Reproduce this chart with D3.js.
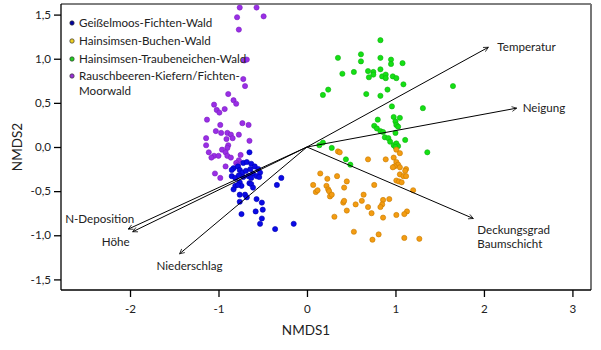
<!DOCTYPE html>
<html><head><meta charset="utf-8">
<script src="https://cdn.jsdelivr.net/npm/d3@7"></script>
<style>body{margin:0;background:#fff}svg{display:block;font-family:Lato,"Open Sans",sans-serif}</style>
</head><body><svg id="c" width="601" height="350"></svg>
<script>
const groups = ["Geißelmoos-Fichten-Wald","Hainsimsen-Buchen-Wald","Hainsimsen-Traubeneichen-Wald","Rauschbeeren-Kiefern/Fichten-Moorwald"];
const blueX = [-0.65,-0.83,-0.85,-0.78,-0.72,-0.68,-0.63,-0.59,-0.55,-0.76,-0.73,-0.69,-0.64,-0.61,-0.85,-0.81,-0.77,-0.72,-0.66,-0.63,-0.53,-0.57,-0.54,-0.76,-0.74,-0.81,-0.83,-0.65,-0.63,-0.61,-0.29,-0.34,-0.76,-0.70,-0.68,-0.76,-0.57,-0.51,-0.58,-0.50,-0.74,-0.51,-0.53,-0.36,-0.15,-0.78];
const blueY = [-0.06,-0.24,-0.26,-0.22,-0.18,-0.17,-0.19,-0.22,-0.25,-0.26,-0.29,-0.27,-0.25,-0.30,-0.33,-0.35,-0.32,-0.34,-0.33,-0.35,-0.29,-0.33,-0.34,-0.40,-0.44,-0.44,-0.48,-0.41,-0.42,-0.46,-0.35,-0.43,-0.54,-0.54,-0.57,-0.62,-0.59,-0.63,-0.73,-0.71,-0.76,-0.81,-0.87,-0.93,-0.87,-0.43];
const orangeX = [0.35,0.37,0.69,0.89,1.01,1.05,0.98,1.01,1.03,0.99,1.12,0.97,1.05,1.11,1.05,1.09,1.12,0.15,0.34,0.23,0.45,1.01,1.04,1.07,0.07,0.10,0.12,0.22,0.24,0.25,0.42,0.76,1.20,0.26,0.28,0.64,0.62,0.55,0.41,0.42,0.86,0.93,0.85,0.83,0.69,0.45,0.73,0.31,0.86,1.01,1.13,1.10,0.53,0.81,0.74,1.10,1.27];
const orangeY = [-0.05,-0.06,-0.14,-0.14,-0.03,-0.07,-0.12,-0.17,-0.20,-0.22,-0.25,-0.23,-0.23,-0.27,-0.31,-0.33,-0.33,-0.30,-0.33,-0.36,-0.39,-0.38,-0.39,-0.40,-0.43,-0.51,-0.49,-0.44,-0.48,-0.50,-0.46,-0.43,-0.49,-0.56,-0.54,-0.54,-0.61,-0.65,-0.63,-0.61,-0.60,-0.59,-0.65,-0.68,-0.68,-0.72,-0.75,-0.79,-0.80,-0.77,-0.73,-0.76,-0.96,-0.99,-1.05,-1.03,-1.04];
const greenX = [0.83,0.35,0.61,0.61,0.83,0.95,0.95,1.08,0.40,0.53,0.69,0.75,0.75,0.70,0.83,0.85,0.89,0.89,0.97,1.01,1.09,0.91,0.24,0.18,0.67,0.83,1.65,0.96,1.31,0.80,0.98,1.05,1.00,1.01,1.03,0.76,0.79,0.83,0.86,1.00,0.88,0.92,0.94,1.11,0.98,1.01,1.03,1.00,0.18,0.14,0.28,1.36,0.44,0.49];
const greenY = [1.21,1.01,1.05,0.97,1.01,0.99,0.94,0.95,0.83,0.85,0.86,0.85,0.82,0.79,0.88,0.80,0.82,0.78,0.80,0.78,0.71,0.65,0.65,0.59,0.60,0.58,0.69,0.46,0.44,0.31,0.34,0.33,0.29,0.25,0.23,0.24,0.21,0.18,0.17,0.16,0.11,0.10,0.06,0.08,0.02,0.04,0.01,0.00,0.05,0.02,-0.01,-0.06,-0.14,-0.20];
const purpleX = [-0.76,-0.57,-0.79,-0.49,-0.77,-0.71,-0.68,-0.72,-0.70,-0.89,-0.83,-0.80,-1.05,-1.02,-0.99,-0.93,-1.13,-0.98,-0.73,-0.66,-1.03,-0.97,-0.90,-0.86,-0.84,-0.77,-1.14,-0.91,-0.65,-1.14,-0.89,-0.90,-1.11,-0.96,-0.92,-1.05,-1.00,-1.08,-0.90,-0.86,-0.77,-0.80,-0.78,-0.92,-1.04,-0.98,-0.75];
const purpleY = [1.58,1.58,1.47,1.48,1.33,0.98,0.99,0.77,0.69,0.60,0.53,0.49,0.48,0.42,0.39,0.43,0.31,0.25,0.27,0.25,0.18,0.16,0.16,0.14,0.10,0.14,0.10,0.09,0.07,0.02,0.02,-0.01,-0.06,-0.03,-0.06,-0.10,-0.10,-0.12,-0.10,-0.12,-0.15,-0.18,-0.20,-0.22,-0.30,-0.35,-0.09];
const vectorNames = ["Temperatur","Neigung","Deckungsgrad Baumschicht","N-Deposition","Höhe","Niederschlag"];
const vectorX = [2.05,2.37,1.88,-2.02,-1.97,-1.44];
const vectorY = [1.13,0.44,-0.81,-0.93,-0.96,-1.21];
const xTicks = [-2,-1,0,1,2,3];
const yTicks = [-1.5,-1.0,-0.5,0.0,0.5,1.0,1.5];

const svg = d3.select("#c");
const L=61,T=4,R=591,B=290, FS=11.6;
const x = d3.scaleLinear().domain([-2.78,3.21]).range([L,R]);
const y = d3.scaleLinear().domain([-1.62,1.62]).range([B,T]);
const loc = d3.formatLocale({decimal:",",thousands:".",grouping:[3],currency:["","€"],minus:"-"});
const fy = loc.format(".1f"), fx = loc.format("d");

// frame
svg.append("line").attr("x1",L).attr("x2",R).attr("y1",T).attr("y2",T).attr("stroke","#000");
svg.append("line").attr("x1",R).attr("x2",R).attr("y1",T).attr("y2",B).attr("stroke","#777").attr("stroke-width",2);

const gx = svg.append("g").attr("transform",`translate(0,${B})`).call(d3.axisBottom(x).tickValues(xTicks).tickFormat(fx).tickSize(7).tickPadding(8));
const gy = svg.append("g").attr("transform",`translate(${L},0)`).call(d3.axisLeft(y).tickValues(yTicks).tickFormat(fy).tickSize(7).tickPadding(3));
[gx,gy].forEach(g=>{g.select(".domain").attr("stroke","#000").attr("stroke-width",1.3);g.selectAll(".tick line").attr("stroke","#000").attr("stroke-width",1.3);g.selectAll("text").attr("font-family","Lato,sans-serif").attr("font-size",FS).attr("fill","#222");});
gy.select(".domain").attr("d",`M-0,${B}V${T}`);
gx.select(".domain").attr("d",`M${L},0H${R}`);

svg.append("text").attr("x",306).attr("y",335).attr("text-anchor","middle").attr("font-size",13.5).attr("fill","#222").text("NMDS1");
svg.append("text").attr("transform","translate(22,147) rotate(-90)").attr("text-anchor","middle").attr("font-size",13.5).attr("fill","#222").text("NMDS2");

// points
const series = [
 {xs:purpleX,ys:purpleY,fill:"#9a2ee6",stroke:"#7a1ec0"},
 {xs:greenX,ys:greenY,fill:"#14e014",stroke:"#10b010"},
 {xs:orangeX,ys:orangeY,fill:"#f39c12",stroke:"#c87a00"},
 {xs:blueX,ys:blueY,fill:"#0a0ae6",stroke:"#0000b0"}
];
series.forEach(s=>{
  svg.append("g").selectAll("circle").data(s.xs.map((v,i)=>[v,s.ys[i]])).join("circle")
   .attr("cx",d=>x(d[0])).attr("cy",d=>y(d[1])).attr("r",2.6)
   .attr("fill",s.fill).attr("stroke",s.stroke).attr("stroke-width",0.6);
});

// arrows
svg.append("defs").append("marker").attr("id","ah").attr("viewBox","0 0 10 10").attr("refX",9).attr("refY",5)
 .attr("markerWidth",6).attr("markerHeight",6).attr("markerUnits","userSpaceOnUse").attr("orient","auto")
 .append("path").attr("d","M1,1L9,5L1,9").attr("fill","none").attr("stroke","#000").attr("stroke-width",1.2);
const labelOff = [[9,0,"start"],[6,0,"start"],[4,11,"start"],[6,-10,"end"],[-3,10,"end"],[10,12,"middle"]];
vectorNames.forEach((n,i)=>{
  svg.append("line").attr("x1",x(0)).attr("y1",y(0)).attr("x2",x(vectorX[i])).attr("y2",y(vectorY[i]))
   .attr("stroke","#000").attr("stroke-width",1).attr("marker-end","url(#ah)");
  const o = labelOff[i];
  const t = svg.append("text").attr("x",x(vectorX[i])+o[0]).attr("y",y(vectorY[i])+o[1]).attr("dy","0.35em")
   .attr("text-anchor",o[2]).attr("font-size",FS).attr("fill","#222");
  if(n==="Deckungsgrad Baumschicht"){
    t.append("tspan").attr("x",x(vectorX[i])+o[0]).text("Deckungsgrad");
    t.append("tspan").attr("x",x(vectorX[i])+o[0]).attr("dy","1.25em").text("Baumschicht");
  } else t.text(n);
});

// legend
const legFill=["#0000a0","#f0d020","#20d020","#9a30d8"];
const legRows=[23,41,59,76];
groups.forEach((g,i)=>{
  svg.append("circle").attr("cx",72).attr("cy",legRows[i]).attr("r",2.2).attr("fill",legFill[i]).attr("stroke","#333").attr("stroke-width",0.7);
  const t=svg.append("text").attr("x",79).attr("y",legRows[i]).attr("dy","0.35em").attr("font-size",FS).attr("fill","#222");
  if(i===3){
    t.append("tspan").attr("x",79).text("Rauschbeeren-Kiefern/Fichten-");
    t.append("tspan").attr("x",79).attr("dy","1.3em").text("Moorwald");
  } else t.text(g);
});
</script></body></html>
